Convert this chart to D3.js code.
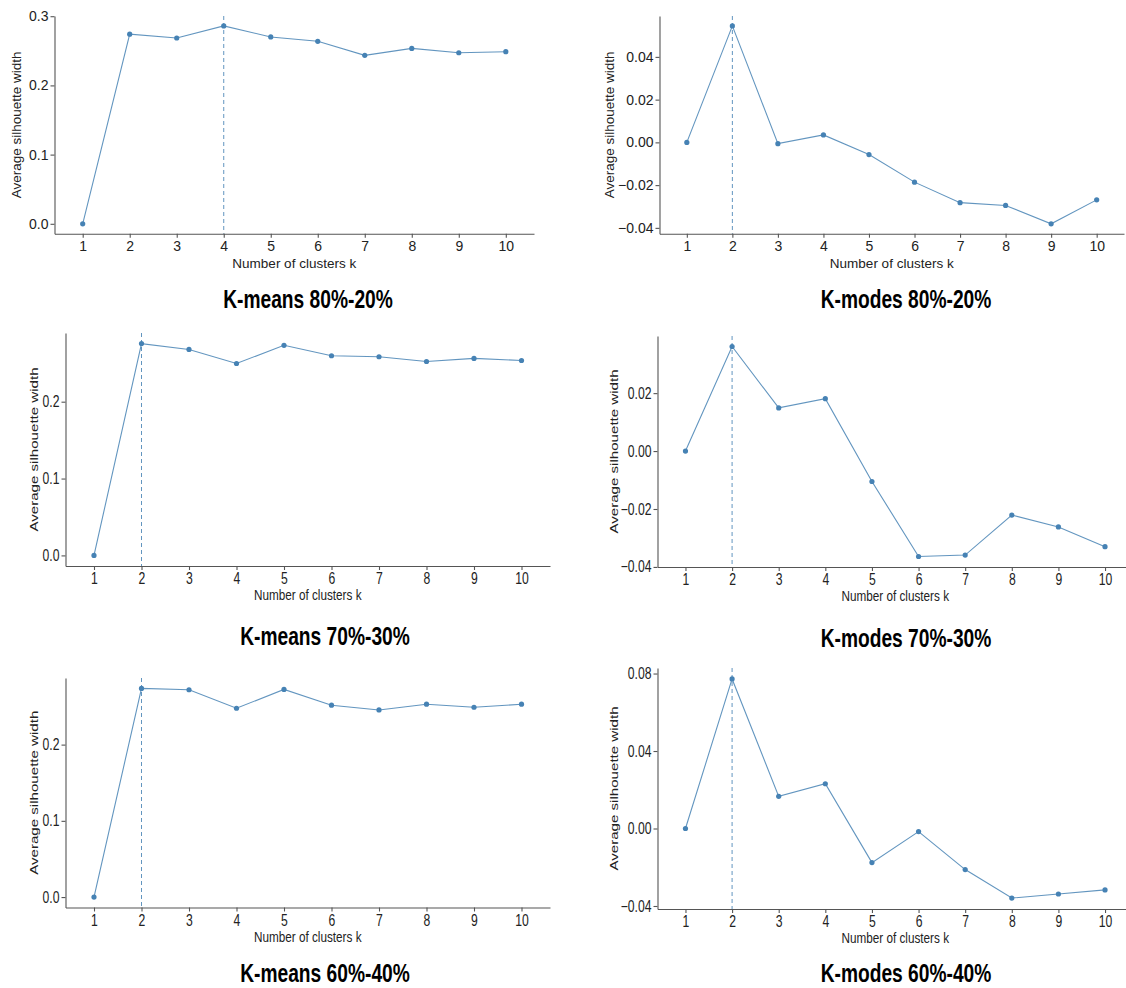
<!DOCTYPE html>
<meta charset="utf-8">
<title>Average silhouette width</title>
<style>
body { margin: 0; background: #fff; }
svg { font-family: "Liberation Sans", Arial, sans-serif; }
.axis path, .axis line { stroke: #555; stroke-width: 1.1; }
.axis text { fill: #222; font-size: 14px; }
.lab { fill: #222; font-size: 13.5px; }
.title { fill: #000; font-size: 24px; font-weight: bold; }
</style>
<svg width="1126" height="988"></svg>
<script src="https://d3js.org/d3.v7.min.js"></script>
<script>
// number of clusters k
var ks = [1, 2, 3, 4, 5, 6, 7, 8, 9, 10]

// average silhouette width per k
var kmeans8020 = [0, 0.274, 0.2685, 0.286, 0.270, 0.2637, 0.2434, 0.2535, 0.2472, 0.2487]
var kmodes8020 = [0, 0.0545, -0.0006, 0.0035, -0.0057, -0.0186, -0.0282, -0.0295, -0.0381, -0.0269]
var kmeans7030 = [0, 0.2756, 0.268, 0.2497, 0.2734, 0.2598, 0.2585, 0.2523, 0.2563, 0.2536]
var kmodes7030 = [0, 0.0361, 0.0149, 0.0181, -0.0105, -0.0364, -0.0359, -0.0221, -0.0262, -0.033]
var kmeans6040 = [0, 0.2737, 0.272, 0.2477, 0.2724, 0.2517, 0.2455, 0.253, 0.249, 0.253]
var kmodes6040 = [0, 0.0772, 0.0166, 0.0231, -0.0176, -0.0016, -0.0212, -0.0359, -0.0338, -0.0317]

// optimal k (dashed line) per panel
var optimalK = [4, 2, 2, 2, 2, 2]

var titles = ["K-means 80%-20%", "K-modes 80%-20%", "K-means 70%-30%",
	"K-modes 70%-30%", "K-means 60%-40%", "K-modes 60%-40%"]

// y tick values per panel
var yTicks1 = [0, 0.1, 0.2, 0.3]
var yTicks2 = [-0.04, -0.02, 0, 0.02, 0.04]
var yTicks3 = [0, 0.1, 0.2]
var yTicks4 = [-0.04, -0.02, 0, 0.02]
var yTicks5 = [0, 0.1, 0.2]
var yTicks6 = [-0.04, 0, 0.04, 0.08]

var series = [kmeans8020, kmodes8020, kmeans7030, kmodes7030, kmeans6040, kmodes6040]
var yTicks = [yTicks1, yTicks2, yTicks3, yTicks4, yTicks5, yTicks6]
var yFormats = [".1f", ".2f", ".1f", ".2f", ".1f", ".2f"]

// panel frames: y-axis x, right end, top, x-axis y, y label x, title x/y, text stretch
var frames = [
	{left: 54.5, right: 534, top: 16, bottom: 233.7, ylabX: 16, tx: 308, ty: 308, sx: 1, sy: 1},
	{left: 659.5, right: 1124, top: 16, bottom: 233.7, ylabX: 609, tx: 906, ty: 308, sx: 1, sy: 1},
	{left: 65.5, right: 550, top: 333, bottom: 566, ylabX: 34, tx: 325, ty: 645, sx: 0.87, sy: 1.12},
	{left: 657.5, right: 1133, top: 336, bottom: 567, ylabX: 614, tx: 906, ty: 647, sx: 0.87, sy: 1.12},
	{left: 65.5, right: 550, top: 678, bottom: 907.5, ylabX: 34, tx: 325, ty: 982, sx: 0.87, sy: 1.12},
	{left: 657.5, right: 1133, top: 668, bottom: 909, ylabX: 614, tx: 906, ty: 982, sx: 0.87, sy: 1.12}
]

var svg = d3.select("svg")
var color = "#4682b4"

series.forEach(function(vals, i) {
	var f = frames[i]
	var data = ks.map(function(k, j) { return {k: k, v: vals[j]} })

	var lo = d3.min(vals), hi = d3.max(vals), pad = (hi - lo) * 0.05
	var y = d3.scaleLinear().domain([lo - pad, hi + pad]).range([f.bottom, f.top])
	var x = d3.scalePoint().domain(ks).range([f.left, f.right]).padding(0.6)

	var g = svg.append("g")

	// dashed optimal k
	g.append("line")
		.attr("x1", x(optimalK[i])).attr("x2", x(optimalK[i]))
		.attr("y1", f.top).attr("y2", f.bottom)
		.attr("stroke", color).attr("stroke-width", 1)
		.attr("stroke-opacity", 0.85)
		.attr("stroke-dasharray", "4,3")

	g.append("path")
		.datum(data)
		.attr("fill", "none")
		.attr("stroke", color)
		.attr("stroke-opacity", 0.85)
		.attr("stroke-width", 1.1)
		.attr("d", d3.line().x(function(d) { return x(d.k) }).y(function(d) { return y(d.v) }))

	g.selectAll("circle")
		.data(data)
		.enter().append("circle")
			.attr("cx", function(d) { return x(d.k) })
			.attr("cy", function(d) { return y(d.v) })
			.attr("r", 2.6)
			.attr("fill", color)

	var ax = g.append("g")
		.attr("class", "axis")
		.attr("transform", "translate(0," + f.bottom + ")")
		.call(d3.axisBottom(x).tickSize(4).tickSizeOuter(0).tickPadding(3))
	ax.selectAll("text")
		.attr("transform", "translate(0,7) scale(" + f.sx + "," + f.sy + ")")
		.attr("y", 0)

	var ay = g.append("g")
		.attr("class", "axis")
		.attr("transform", "translate(" + f.left + ",0)")
		.call(d3.axisLeft(y).tickValues(yTicks[i]).tickFormat(d3.format(yFormats[i]))
			.tickSize(4).tickSizeOuter(0).tickPadding(2))
	ay.selectAll("text")
		.attr("transform", "translate(-6,0) scale(" + f.sx + "," + f.sy + ")")
		.attr("x", 0)

	var mid = (f.left + f.right) / 2

	g.append("text")
		.attr("class", "lab")
		.attr("text-anchor", "middle")
		.attr("transform", "translate(" + mid + "," + (f.bottom + 34) + ") scale(" + f.sx + "," + f.sy + ")")
		.text("Number of clusters k")

	g.append("text")
		.attr("class", "lab")
		.attr("text-anchor", "middle")
		.attr("dy", "0.35em")
		.attr("transform", "translate(" + f.ylabX + "," + ((f.top + f.bottom) / 2) + ") scale(" + f.sx + "," + f.sy + ") rotate(-90)")
		.text("Average silhouette width")

	g.append("text")
		.attr("class", "title")
		.attr("text-anchor", "middle")
		.attr("transform", "translate(" + f.tx + "," + f.ty + ") scale(0.8,1.04)")
		.text(titles[i])
})
</script>
